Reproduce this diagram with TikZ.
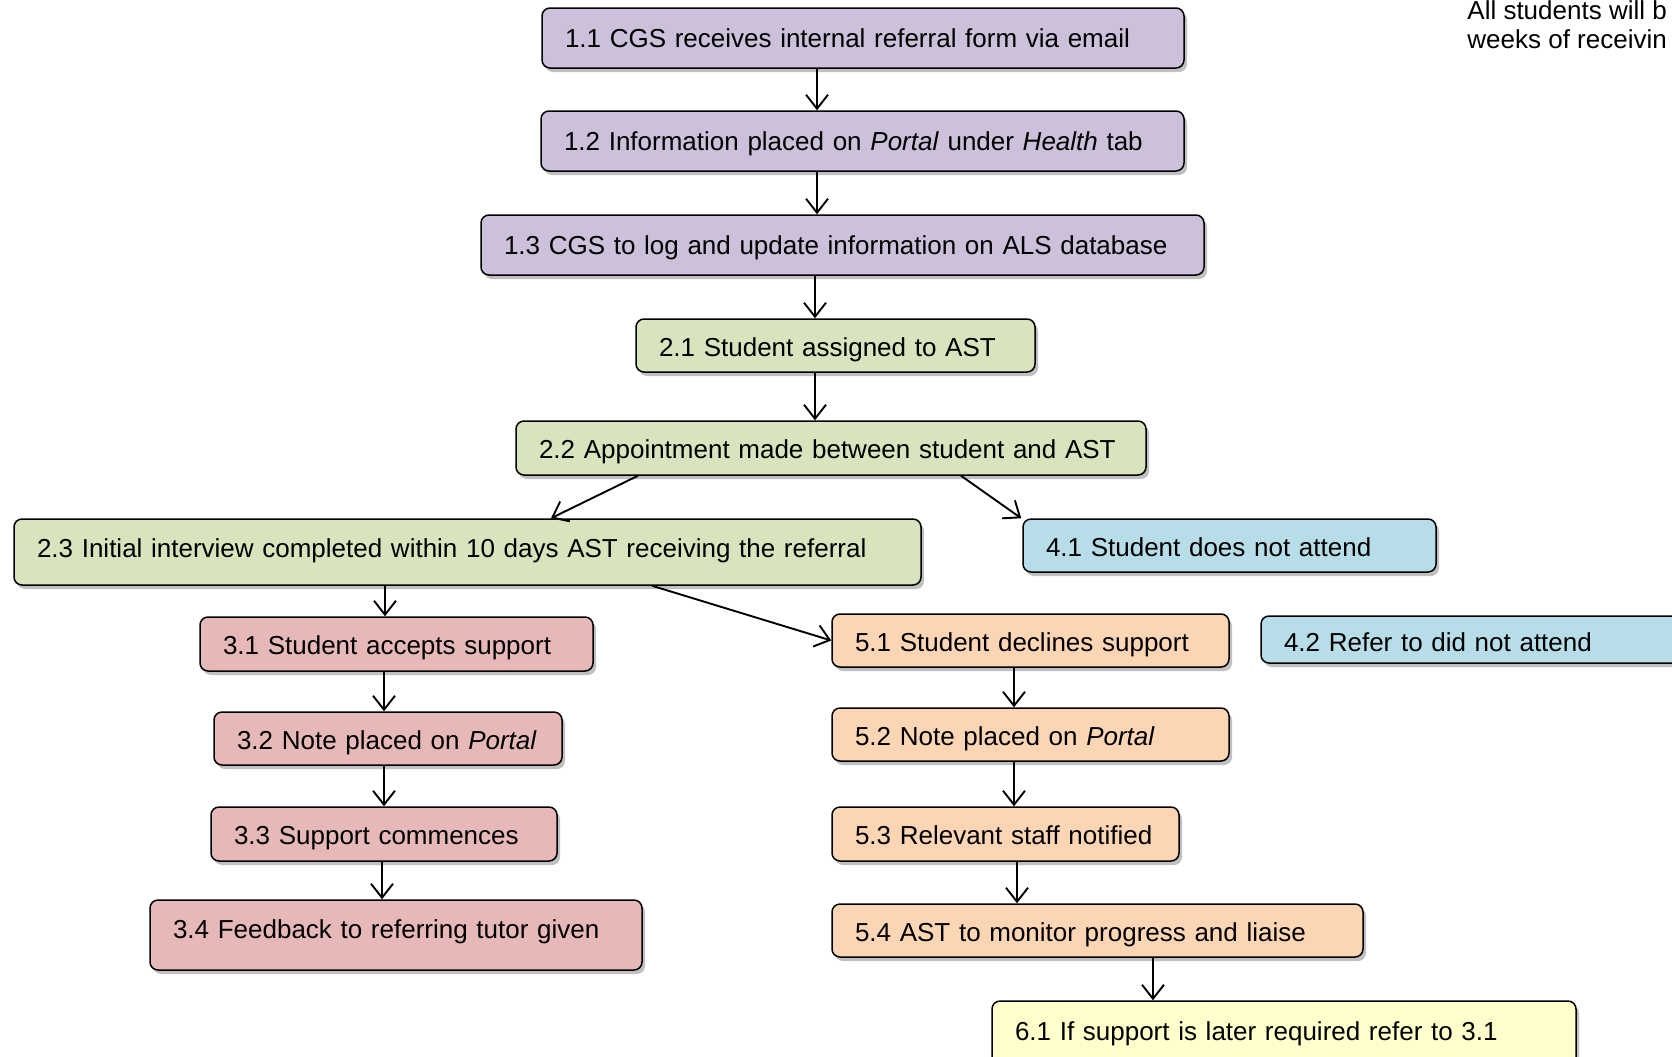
\documentclass[tikz,border=0pt]{standalone}
\usepackage{fontspec}
\setmainfont{Liberation Sans}
\usetikzlibrary{arrows.meta,shadows}

\definecolor{lilac}{RGB}{204,192,218}
\definecolor{sage}{RGB}{215,228,189}
\definecolor{skyblue}{RGB}{183,222,232}
\definecolor{rosepink}{RGB}{230,185,184}
\definecolor{peach}{RGB}{252,213,181}
\definecolor{cream}{RGB}{255,255,204}

\begin{document}
\begin{tikzpicture}[x=0.5pt, y=-0.5pt,
    stepbox/.style={draw, rounded corners=4pt, line width=0.75pt, align=left,
        inner xsep=11.5pt, inner ysep=0pt, text height=10.9pt, text depth=0pt,
        font=\fontsize{13}{14.5}\selectfont,
        drop shadow={shadow xshift=1.5pt, shadow yshift=-2pt, fill=black!45, opacity=0.55}},
    arr/.style={-{Straight Barb[length=7pt,width=11pt]}, line width=0.95pt}]

    \useasboundingbox (0,0) rectangle (1672,1056);
    \clip (0,0) rectangle (1672,1056);

    % referral and logging
    \node[stepbox, fill=lilac, text width=298pt, minimum height=30pt, text depth=1.2pt] (n11) at (863,38) {1.1 CGS receives internal referral form via email};
    \node[stepbox, fill=lilac, text width=298.5pt, minimum height=30pt, text depth=1.2pt] (n12) at (862.5,141) {1.2 Information placed on \textit{Portal} under \textit{Health} tab};
    \node[stepbox, fill=lilac, text width=338.5pt, minimum height=30pt, text depth=1.2pt] (n13) at (842.5,245) {1.3 CGS to log and update information on ALS database};

    % assignment
    \node[stepbox, fill=sage, text width=176.5pt, minimum height=26.5pt] (n21) at (835.5,345.5) {2.1 Student assigned to AST};
    \node[stepbox, fill=sage, text width=292pt, minimum height=27pt] (n22) at (831,448) {2.2 Appointment made between student and AST};
    \node[stepbox, fill=sage, text width=430.5pt, minimum height=33pt, text depth=5.4pt] (n23) at (467.5,552) {2.3 Initial interview completed within 10 days AST receiving the referral};

    % did not attend
    \node[stepbox, fill=skyblue, text width=183.5pt, minimum height=26.5pt] (n41) at (1229.5,545.5) {4.1 Student does not attend};
    \node[stepbox, fill=skyblue, text width=217pt, minimum height=23.5pt, text height=12pt] (n42) at (1501,639.5) {4.2 Refer to did not attend};

    % accepts support
    \node[stepbox, fill=rosepink, text width=173.5pt, minimum height=27pt] (n31) at (396.5,644) {3.1 Student accepts support};
    \node[stepbox, fill=rosepink, text width=151pt, minimum height=26.5pt] (n32) at (388,738.5) {3.2 Note placed on \textit{Portal}};
    \node[stepbox, fill=rosepink, text width=150pt, minimum height=27pt] (n33) at (384,834) {3.3 Support commences};
    \node[stepbox, fill=rosepink, text width=223pt, minimum height=35pt, text depth=7.4pt] (n34) at (396,935) {3.4 Feedback to referring tutor given};

    % declines support
    \node[stepbox, fill=peach, text width=175.5pt, minimum height=26.5pt] (n51) at (1030.5,640.5) {5.1 Student declines support};
    \node[stepbox, fill=peach, text width=175.5pt, minimum height=26.5pt] (n52) at (1030.5,734.5) {5.2 Note placed on \textit{Portal}};
    \node[stepbox, fill=peach, text width=150.5pt, minimum height=27pt] (n53) at (1005.5,834) {5.3 Relevant staff notified};
    \node[stepbox, fill=peach, text width=242.5pt, minimum height=26.5pt] (n54) at (1097.5,930.5) {5.4 AST to monitor progress and liaise};
    \node[stepbox, fill=cream, text width=269pt, minimum height=33pt, text depth=4.2pt] (n61) at (1284,1034) {6.1 If support is later required refer to 3.1};

    \node[anchor=north west, align=left, inner sep=0pt, font=\fontsize{13}{14.5}\selectfont] (note) at (1467,0) {All students will b\\weeks of receivin};

    \draw[arr] ([xshift=-23pt]n11.south) -- ([xshift=-22.75pt]n12.north); % 1.1 - 1.2
    \draw[arr] ([xshift=-22.75pt]n12.south) -- ([xshift=-12.75pt]n13.north); % 1.2 - 1.3
    \draw[arr] ([xshift=-13.75pt]n13.south) -- ([xshift=-10.25pt]n21.north); % 1.3 - 2.1
    \draw[arr] ([xshift=-10.25pt]n21.south) -- ([xshift=-8pt]n22.north); % 2.1 - 2.2
    \draw[arr] ([xshift=-96.5pt]n22.south) -- ([xshift=41.75pt]n23.north); % 2.2 - 2.3
    \draw[arr] ([xshift=65pt]n22.south) -- ([xshift=-0.5pt]n41.north west); % 2.2 - 4.1
    \draw[arr] ([xshift=-41.25pt]n23.south) -- ([xshift=-5.75pt]n31.north); % 2.3 - 3.1
    \draw[arr] ([xshift=92.25pt]n23.south) -- (n51.west); % 2.3 - 5.1

    \draw[arr] ([xshift=-6.25pt]n31.south) -- ([xshift=-2pt]n32.north); % 3.1 - 3.2
    \draw[arr] ([xshift=-2pt]n32.south) -- (n33.north); % 3.2 - 3.3
    \draw[arr] ([xshift=-1pt]n33.south) -- ([xshift=-7pt]n34.north); % 3.3 - 3.4

    \draw[arr] ([xshift=-8.25pt]n51.south) -- ([xshift=-8.25pt]n52.north); % 5.1 - 5.2
    \draw[arr] ([xshift=-8.25pt]n52.south) -- ([xshift=4.25pt]n53.north); % 5.2 - 5.3
    \draw[arr] ([xshift=5.75pt]n53.south) -- ([xshift=-40.25pt]n54.north); % 5.3 - 5.4
    \draw[arr] ([xshift=27.75pt]n54.south) -- ([xshift=-65.5pt]n61.north); % 5.4 - 6.1
\end{tikzpicture}
\end{document}
